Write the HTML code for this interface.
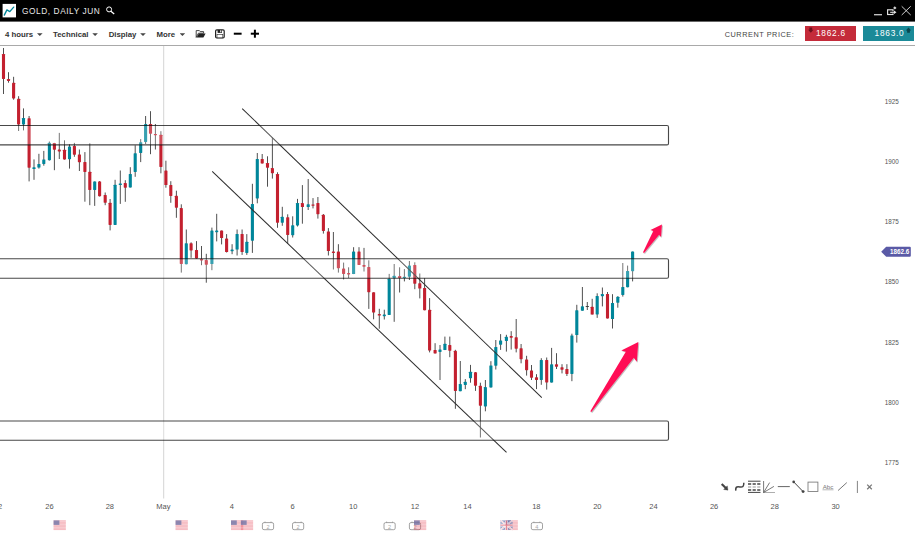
<!DOCTYPE html>
<html><head><meta charset="utf-8"><title>GOLD, DAILY JUN</title>
<style>
html,body{margin:0;padding:0;}
body{width:915px;height:533px;position:relative;overflow:hidden;background:#fff;font-family:"Liberation Sans",sans-serif;}
.abs{position:absolute;white-space:nowrap;}
#titlebar{left:0;top:0;width:915px;height:21px;background:#000;border-bottom:1px solid #666;}
#title{left:22.1px;top:6.1px;font-size:8.3px;line-height:11px;color:#e8e8e8;letter-spacing:0.56px;}
#toolbar{left:0;top:22px;width:915px;height:23px;background:#fff;border-bottom:1px solid #a9a9a9;}
.tb{top:28.6px;font-size:7.8px;line-height:11px;font-weight:bold;color:#333;}
.car{top:33.2px;width:5.6px;height:2.9px;background:#444;clip-path:polygon(0 0,100% 0,50% 100%);}
#cp{left:724.7px;top:29.2px;font-size:7.3px;line-height:11px;color:#444;letter-spacing:0.55px;}
.pbox{top:26.3px;height:14.4px;color:#fff;font-size:8.3px;line-height:14.4px;letter-spacing:0.75px;}
.ax{font-size:6.3px;line-height:9px;color:#555;}
.dt{font-size:7.5px;line-height:9px;color:#555;top:501.5px;transform:translateX(-50%);}
</style></head><body>
<div class="abs" id="titlebar"></div>
<svg class="abs" style="left:0;top:0" width="130" height="22" viewBox="0 0 130 22">
<rect x="2.6" y="3.9" width="13.4" height="13.5" fill="#fff"/>
<polyline points="4.3,15.1 6.9,9.9 9.8,11.6 13.7,7.1" fill="none" stroke="#00869a" stroke-width="1.35" stroke-linecap="round" stroke-linejoin="round"/>
<circle cx="109.1" cy="9.4" r="2.5" fill="none" stroke="#fff" stroke-width="1"/>
<line x1="110.9" y1="11.2" x2="114.2" y2="14" stroke="#fff" stroke-width="1.3"/>
</svg>
<div class="abs" id="title">GOLD, DAILY JUN</div>
<svg class="abs" style="left:870px;top:0" width="45" height="22" viewBox="870 0 45 22">
<line x1="874" y1="14.75" x2="882" y2="14.75" stroke="#f0f0f0" stroke-width="1.1"/>
<rect x="887.6" y="9.8" width="5.4" height="4.7" fill="none" stroke="#e2e2e2" stroke-width="1.15"/>
<rect x="892" y="11.3" width="2.6" height="2" fill="#000"/>
<line x1="890.2" y1="12.3" x2="894.6" y2="12.3" stroke="#e8e8e8" stroke-width="1.1"/>
<path d="M894 10.5 L896.5 12.3 L894 14.1 Z" fill="#e8e8e8"/>
<path d="M894.8 6.2 L896.5 7.9 L894.8 9.6 L893.1 7.9 Z" fill="#d0d0d0"/>
<path d="M901.7 6.3 L910.7 15 M910.7 6.3 L901.7 15" stroke="#e4e4e4" stroke-width="0.9" fill="none"/>
</svg>
<div class="abs" id="toolbar"></div>
<div class="abs tb" style="left:5px">4 hours</div><div class="abs car" style="left:37px"></div>
<div class="abs tb" style="left:53.1px">Technical</div><div class="abs car" style="left:92.3px"></div>
<div class="abs tb" style="left:108.7px">Display</div><div class="abs car" style="left:140.2px"></div>
<div class="abs tb" style="left:156.4px">More</div><div class="abs car" style="left:179.6px"></div>
<svg class="abs" style="left:190px;top:24px" width="80" height="20" viewBox="190 24 80 20">
<path d="M196.2 37.4 L196.2 30.6 L199.4 30.6 L200.2 31.6 L203.6 31.6 L203.6 33.2 L198.4 33.2 Z" fill="none" stroke="#333" stroke-width="0.9"/>
<path d="M196.6 37.6 L198.8 33.4 L205.6 33.4 L203.4 37.6 Z" fill="#222"/>
<rect x="215.6" y="29.9" width="8.6" height="8.1" rx="1.2" fill="none" stroke="#222" stroke-width="1.2"/>
<rect x="217.6" y="29.9" width="4.4" height="3" fill="#222"/>
<rect x="220.2" y="30.3" width="1.1" height="2" fill="#fff"/>
<rect x="217" y="34.6" width="5.8" height="3.2" fill="#fff" stroke="#222" stroke-width="0.6"/>
<rect x="233.8" y="32.7" width="7.8" height="2" fill="#000"/>
<rect x="250.8" y="32.7" width="8.2" height="2" fill="#000"/>
<rect x="253.9" y="29.7" width="2" height="8" fill="#000"/>
</svg>
<div class="abs" id="cp">CURRENT PRICE:</div>
<div class="abs pbox" style="left:804.8px;width:51.2px;background:#c42b3a;"><span style="position:absolute;left:11.2px">1862.6</span></div>
<div class="abs pbox" style="left:862.9px;width:51px;background:#1b8a98;"><span style="position:absolute;left:11.7px">1863.0</span></div>
<svg class="abs" style="left:800px;top:24px" width="115" height="20" viewBox="800 24 115 20">
<path d="M809.4 27.4 h2.8 v2.3 h1.3 l-2.7 3.1 l-2.7 -3.1 h1.3 Z" fill="#6e101c"/>
<path d="M907.1 32.8 h2.8 v-2.3 h1.3 l-2.7 -3.1 l-2.7 3.1 h1.3 Z" fill="#09464e"/>
</svg>

<svg class="abs" style="left:0;top:46px" width="915" height="487" viewBox="0 46 915 487">
<defs><filter id="sh" x="-20%" y="-20%" width="140%" height="140%"><feDropShadow dx="0.8" dy="0.8" stdDeviation="0.5" flood-color="#000" flood-opacity="0.32"/></filter></defs>
<line x1="163.7" y1="46" x2="163.7" y2="498.5" stroke="#d4d4d4" stroke-width="1"/>
<line x1="3.5" y1="48" x2="3.5" y2="94" stroke="#3c3c3c" stroke-width="0.9"/>
<rect x="1.95" y="54" width="3.1" height="25" rx="0.45" fill="#c3202f"/>
<line x1="8.5" y1="72.2" x2="8.5" y2="82.7" stroke="#3c3c3c" stroke-width="0.9"/>
<rect x="6.95" y="79" width="3.1" height="2" rx="0.45" fill="#c3202f"/>
<line x1="13.6" y1="76.8" x2="13.6" y2="99.7" stroke="#3c3c3c" stroke-width="0.9"/>
<rect x="12.05" y="82.7" width="3.1" height="15.7" rx="0.45" fill="#c3202f"/>
<line x1="18.6" y1="96.2" x2="18.6" y2="131" stroke="#3c3c3c" stroke-width="0.9"/>
<rect x="17.05" y="98.8" width="3.1" height="25.6" rx="0.45" fill="#c3202f"/>
<line x1="23.5" y1="108.4" x2="23.5" y2="130.4" stroke="#3c3c3c" stroke-width="0.9"/>
<rect x="21.95" y="118" width="3.1" height="6.4" rx="0.45" fill="#00869a"/>
<line x1="29.1" y1="116" x2="29.1" y2="181.4" stroke="#3c3c3c" stroke-width="0.9"/>
<rect x="27.55" y="118.2" width="3.1" height="49.6" rx="0.45" fill="#c3202f"/>
<line x1="34" y1="159.4" x2="34" y2="179.8" stroke="#3c3c3c" stroke-width="0.9"/>
<rect x="32.45" y="167.3" width="3.1" height="1.8" rx="0.45" fill="#00869a"/>
<line x1="38.9" y1="153.8" x2="38.9" y2="168.6" stroke="#3c3c3c" stroke-width="0.9"/>
<rect x="37.35" y="163.9" width="3.1" height="3.7" rx="0.45" fill="#00869a"/>
<line x1="43.8" y1="150.9" x2="43.8" y2="165.7" stroke="#3c3c3c" stroke-width="0.9"/>
<rect x="42.25" y="159.4" width="3.1" height="4.5" rx="0.45" fill="#00869a"/>
<line x1="49.4" y1="141.5" x2="49.4" y2="160.5" stroke="#3c3c3c" stroke-width="0.9"/>
<rect x="47.85" y="142.7" width="3.1" height="17.6" rx="0.45" fill="#00869a"/>
<line x1="54.4" y1="142.9" x2="54.4" y2="170.2" stroke="#3c3c3c" stroke-width="0.9"/>
<rect x="52.85" y="143" width="3.1" height="6.8" rx="0.45" fill="#c3202f"/>
<line x1="59.3" y1="132.9" x2="59.3" y2="159" stroke="#3c3c3c" stroke-width="0.9"/>
<rect x="57.75" y="149.5" width="3.1" height="1.9" rx="0.45" fill="#c3202f"/>
<line x1="64.5" y1="140.3" x2="64.5" y2="159.6" stroke="#3c3c3c" stroke-width="0.9"/>
<rect x="62.95" y="149.8" width="3.1" height="9.6" rx="0.45" fill="#c3202f"/>
<line x1="69.5" y1="144.2" x2="69.5" y2="168.6" stroke="#3c3c3c" stroke-width="0.9"/>
<rect x="67.95" y="146.6" width="3.1" height="12.7" rx="0.45" fill="#00869a"/>
<line x1="74.4" y1="142.9" x2="74.4" y2="156.8" stroke="#3c3c3c" stroke-width="0.9"/>
<rect x="72.85" y="145.9" width="3.1" height="8.9" rx="0.45" fill="#c3202f"/>
<line x1="79.4" y1="149.5" x2="79.4" y2="171" stroke="#3c3c3c" stroke-width="0.9"/>
<rect x="77.85" y="154.4" width="3.1" height="7.9" rx="0.45" fill="#c3202f"/>
<line x1="84.9" y1="152.1" x2="84.9" y2="201.7" stroke="#3c3c3c" stroke-width="0.9"/>
<rect x="83.35" y="161.9" width="3.1" height="10" rx="0.45" fill="#c3202f"/>
<line x1="89.8" y1="143.3" x2="89.8" y2="205.2" stroke="#3c3c3c" stroke-width="0.9"/>
<rect x="88.25" y="171.8" width="3.1" height="18.1" rx="0.45" fill="#c3202f"/>
<line x1="94.7" y1="181.4" x2="94.7" y2="205.9" stroke="#3c3c3c" stroke-width="0.9"/>
<rect x="93.15" y="181.4" width="3.1" height="8.5" rx="0.45" fill="#00869a"/>
<line x1="99.6" y1="181" x2="99.6" y2="196.5" stroke="#3c3c3c" stroke-width="0.9"/>
<rect x="98.05" y="181.4" width="3.1" height="14.8" rx="0.45" fill="#c3202f"/>
<line x1="105.2" y1="192.5" x2="105.2" y2="205.2" stroke="#3c3c3c" stroke-width="0.9"/>
<rect x="103.65" y="195" width="3.1" height="7.8" rx="0.45" fill="#c3202f"/>
<line x1="110.1" y1="199" x2="110.1" y2="230.4" stroke="#3c3c3c" stroke-width="0.9"/>
<rect x="108.55" y="202.8" width="3.1" height="22.1" rx="0.45" fill="#c3202f"/>
<line x1="115.1" y1="179.8" x2="115.1" y2="224.9" stroke="#3c3c3c" stroke-width="0.9"/>
<rect x="113.55" y="184.7" width="3.1" height="40.2" rx="0.45" fill="#00869a"/>
<line x1="120.3" y1="170.5" x2="120.3" y2="203.9" stroke="#3c3c3c" stroke-width="0.9"/>
<rect x="118.75" y="183.4" width="3.1" height="1.7" rx="0.45" fill="#00869a"/>
<line x1="125.3" y1="180.2" x2="125.3" y2="201.8" stroke="#3c3c3c" stroke-width="0.9"/>
<rect x="123.75" y="183.1" width="3.1" height="4.6" rx="0.45" fill="#c3202f"/>
<line x1="130.3" y1="167.2" x2="130.3" y2="187.5" stroke="#3c3c3c" stroke-width="0.9"/>
<rect x="128.75" y="173.9" width="3.1" height="13.6" rx="0.45" fill="#00869a"/>
<line x1="135.2" y1="145.3" x2="135.2" y2="176.8" stroke="#3c3c3c" stroke-width="0.9"/>
<rect x="133.65" y="153.2" width="3.1" height="18.8" rx="0.45" fill="#00869a"/>
<line x1="140.7" y1="139.1" x2="140.7" y2="162.1" stroke="#3c3c3c" stroke-width="0.9"/>
<rect x="139.15" y="142.3" width="3.1" height="10.6" rx="0.45" fill="#00869a"/>
<line x1="145.6" y1="116" x2="145.6" y2="144" stroke="#3c3c3c" stroke-width="0.9"/>
<rect x="144.05" y="124" width="3.1" height="18" rx="0.45" fill="#00869a"/>
<line x1="150.5" y1="111.2" x2="150.5" y2="154.2" stroke="#3c3c3c" stroke-width="0.9"/>
<rect x="148.95" y="124" width="3.1" height="9.7" rx="0.45" fill="#c3202f"/>
<line x1="155.4" y1="124" x2="155.4" y2="149.5" stroke="#3c3c3c" stroke-width="0.9"/>
<rect x="153.85" y="133.9" width="3.1" height="1.3" rx="0.45" fill="#c3202f"/>
<line x1="160.9" y1="131.2" x2="160.9" y2="173.3" stroke="#3c3c3c" stroke-width="0.9"/>
<rect x="159.35" y="134.8" width="3.1" height="32.2" rx="0.45" fill="#c3202f"/>
<line x1="165.9" y1="160.7" x2="165.9" y2="187.7" stroke="#3c3c3c" stroke-width="0.9"/>
<rect x="164.35" y="170.6" width="3.1" height="14.5" rx="0.45" fill="#c3202f"/>
<line x1="170.8" y1="181.2" x2="170.8" y2="202.8" stroke="#3c3c3c" stroke-width="0.9"/>
<rect x="169.25" y="185.1" width="3.1" height="10.9" rx="0.45" fill="#c3202f"/>
<line x1="176.4" y1="190.7" x2="176.4" y2="217.8" stroke="#3c3c3c" stroke-width="0.9"/>
<rect x="174.85" y="195.7" width="3.1" height="12" rx="0.45" fill="#c3202f"/>
<line x1="181.3" y1="204.3" x2="181.3" y2="272.6" stroke="#3c3c3c" stroke-width="0.9"/>
<rect x="179.75" y="208" width="3.1" height="56" rx="0.45" fill="#c3202f"/>
<line x1="186.3" y1="229.5" x2="186.3" y2="264.3" stroke="#3c3c3c" stroke-width="0.9"/>
<rect x="184.75" y="243.3" width="3.1" height="21" rx="0.45" fill="#00869a"/>
<line x1="191.1" y1="242.3" x2="191.1" y2="257.8" stroke="#3c3c3c" stroke-width="0.9"/>
<rect x="189.55" y="243.3" width="3.1" height="7.2" rx="0.45" fill="#c3202f"/>
<line x1="196.5" y1="241.1" x2="196.5" y2="258.7" stroke="#3c3c3c" stroke-width="0.9"/>
<rect x="194.95" y="249.9" width="3.1" height="8.5" rx="0.45" fill="#c3202f"/>
<line x1="201.5" y1="246" x2="201.5" y2="265.2" stroke="#3c3c3c" stroke-width="0.9"/>
<rect x="199.95" y="259.1" width="3.1" height="1.3" rx="0.45" fill="#c3202f"/>
<line x1="206.3" y1="253.8" x2="206.3" y2="282.7" stroke="#3c3c3c" stroke-width="0.9"/>
<rect x="204.75" y="260.1" width="3.1" height="4.6" rx="0.45" fill="#c3202f"/>
<line x1="211.9" y1="227.6" x2="211.9" y2="270.2" stroke="#3c3c3c" stroke-width="0.9"/>
<rect x="210.35" y="230.6" width="3.1" height="33.5" rx="0.45" fill="#00869a"/>
<line x1="216.7" y1="213.8" x2="216.7" y2="241.4" stroke="#3c3c3c" stroke-width="0.9"/>
<rect x="215.15" y="230.6" width="3.1" height="1.7" rx="0.45" fill="#00869a"/>
<line x1="221.6" y1="230.6" x2="221.6" y2="244.4" stroke="#3c3c3c" stroke-width="0.9"/>
<rect x="220.05" y="230.6" width="3.1" height="7.5" rx="0.45" fill="#c3202f"/>
<line x1="226.6" y1="234.1" x2="226.6" y2="252.5" stroke="#3c3c3c" stroke-width="0.9"/>
<rect x="225.05" y="238.5" width="3.1" height="13.6" rx="0.45" fill="#c3202f"/>
<line x1="232.1" y1="244.2" x2="232.1" y2="254.2" stroke="#3c3c3c" stroke-width="0.9"/>
<rect x="230.55" y="249.5" width="3.1" height="1.7" rx="0.45" fill="#00869a"/>
<line x1="237.1" y1="229.5" x2="237.1" y2="255.5" stroke="#3c3c3c" stroke-width="0.9"/>
<rect x="235.55" y="234.1" width="3.1" height="15.5" rx="0.45" fill="#00869a"/>
<line x1="242.1" y1="229.5" x2="242.1" y2="254.9" stroke="#3c3c3c" stroke-width="0.9"/>
<rect x="240.55" y="234.1" width="3.1" height="18" rx="0.45" fill="#c3202f"/>
<line x1="246.8" y1="234.1" x2="246.8" y2="254.9" stroke="#3c3c3c" stroke-width="0.9"/>
<rect x="245.25" y="241.7" width="3.1" height="11.2" rx="0.45" fill="#00869a"/>
<line x1="252.4" y1="183.8" x2="252.4" y2="252.9" stroke="#3c3c3c" stroke-width="0.9"/>
<rect x="250.85" y="203.9" width="3.1" height="36.8" rx="0.45" fill="#00869a"/>
<line x1="257.3" y1="153" x2="257.3" y2="203.3" stroke="#3c3c3c" stroke-width="0.9"/>
<rect x="255.75" y="158.9" width="3.1" height="39.6" rx="0.45" fill="#00869a"/>
<line x1="262.2" y1="154" x2="262.2" y2="163.5" stroke="#3c3c3c" stroke-width="0.9"/>
<rect x="260.65" y="158.9" width="3.1" height="4.6" rx="0.45" fill="#c3202f"/>
<line x1="267.5" y1="156.3" x2="267.5" y2="186.7" stroke="#3c3c3c" stroke-width="0.9"/>
<rect x="265.95" y="163.1" width="3.1" height="4.7" rx="0.45" fill="#c3202f"/>
<line x1="272.4" y1="137.6" x2="272.4" y2="178.6" stroke="#3c3c3c" stroke-width="0.9"/>
<rect x="270.85" y="168.1" width="3.1" height="5.2" rx="0.45" fill="#c3202f"/>
<line x1="277.5" y1="172.3" x2="277.5" y2="227.8" stroke="#3c3c3c" stroke-width="0.9"/>
<rect x="275.95" y="174" width="3.1" height="48.8" rx="0.45" fill="#c3202f"/>
<line x1="282.3" y1="206.8" x2="282.3" y2="225.8" stroke="#3c3c3c" stroke-width="0.9"/>
<rect x="280.75" y="216.7" width="3.1" height="6.1" rx="0.45" fill="#00869a"/>
<line x1="287.7" y1="214.3" x2="287.7" y2="243.8" stroke="#3c3c3c" stroke-width="0.9"/>
<rect x="286.15" y="217.3" width="3.1" height="17.7" rx="0.45" fill="#c3202f"/>
<line x1="292.7" y1="216.3" x2="292.7" y2="237.5" stroke="#3c3c3c" stroke-width="0.9"/>
<rect x="291.15" y="225.2" width="3.1" height="10.1" rx="0.45" fill="#00869a"/>
<line x1="297.5" y1="198.9" x2="297.5" y2="226.5" stroke="#3c3c3c" stroke-width="0.9"/>
<rect x="295.95" y="203.1" width="3.1" height="22.3" rx="0.45" fill="#00869a"/>
<line x1="302.4" y1="185.1" x2="302.4" y2="223.7" stroke="#3c3c3c" stroke-width="0.9"/>
<rect x="300.85" y="203.1" width="3.1" height="4" rx="0.45" fill="#c3202f"/>
<line x1="308.2" y1="179" x2="308.2" y2="210" stroke="#3c3c3c" stroke-width="0.9"/>
<rect x="306.65" y="204.2" width="3.1" height="2.9" rx="0.45" fill="#00869a"/>
<line x1="313" y1="198.1" x2="313" y2="208.4" stroke="#3c3c3c" stroke-width="0.9"/>
<rect x="311.45" y="204.4" width="3.1" height="1.4" rx="0.45" fill="#c3202f"/>
<line x1="317.9" y1="197" x2="317.9" y2="218.6" stroke="#3c3c3c" stroke-width="0.9"/>
<rect x="316.35" y="202.9" width="3.1" height="11.4" rx="0.45" fill="#c3202f"/>
<line x1="323.4" y1="214" x2="323.4" y2="233.6" stroke="#3c3c3c" stroke-width="0.9"/>
<rect x="321.85" y="214.7" width="3.1" height="16.3" rx="0.45" fill="#c3202f"/>
<line x1="328.4" y1="228.1" x2="328.4" y2="255.5" stroke="#3c3c3c" stroke-width="0.9"/>
<rect x="326.85" y="231.4" width="3.1" height="19.7" rx="0.45" fill="#c3202f"/>
<line x1="333.4" y1="232" x2="333.4" y2="269.5" stroke="#3c3c3c" stroke-width="0.9"/>
<rect x="331.85" y="251.5" width="3.1" height="1.5" rx="0.45" fill="#c3202f"/>
<line x1="338.4" y1="244.2" x2="338.4" y2="272.6" stroke="#3c3c3c" stroke-width="0.9"/>
<rect x="336.85" y="251.5" width="3.1" height="16.7" rx="0.45" fill="#c3202f"/>
<line x1="343.6" y1="262.6" x2="343.6" y2="279.4" stroke="#3c3c3c" stroke-width="0.9"/>
<rect x="342.05" y="268.6" width="3.1" height="5.3" rx="0.45" fill="#c3202f"/>
<line x1="348.6" y1="267.3" x2="348.6" y2="278" stroke="#3c3c3c" stroke-width="0.9"/>
<rect x="347.05" y="273.1" width="3.1" height="1.4" rx="0.45" fill="#c3202f"/>
<line x1="353.6" y1="247.2" x2="353.6" y2="274.1" stroke="#3c3c3c" stroke-width="0.9"/>
<rect x="352.05" y="251.6" width="3.1" height="22.5" rx="0.45" fill="#00869a"/>
<line x1="359" y1="247.2" x2="359" y2="264.9" stroke="#3c3c3c" stroke-width="0.9"/>
<rect x="357.45" y="251.6" width="3.1" height="13.3" rx="0.45" fill="#c3202f"/>
<line x1="364" y1="247.9" x2="364" y2="271.5" stroke="#3c3c3c" stroke-width="0.9"/>
<rect x="362.45" y="264.9" width="3.1" height="1.8" rx="0.45" fill="#c3202f"/>
<line x1="368.8" y1="260.3" x2="368.8" y2="308.9" stroke="#3c3c3c" stroke-width="0.9"/>
<rect x="367.25" y="266.9" width="3.1" height="25.4" rx="0.45" fill="#c3202f"/>
<line x1="373.6" y1="292.3" x2="373.6" y2="319.3" stroke="#3c3c3c" stroke-width="0.9"/>
<rect x="372.05" y="292.3" width="3.1" height="20.3" rx="0.45" fill="#c3202f"/>
<line x1="379.3" y1="308.8" x2="379.3" y2="328.7" stroke="#3c3c3c" stroke-width="0.9"/>
<rect x="377.75" y="314" width="3.1" height="1.6" rx="0.45" fill="#c3202f"/>
<line x1="384.3" y1="309.7" x2="384.3" y2="319.5" stroke="#3c3c3c" stroke-width="0.9"/>
<rect x="382.75" y="314.6" width="3.1" height="1.7" rx="0.45" fill="#00869a"/>
<line x1="389.2" y1="273.9" x2="389.2" y2="314.9" stroke="#3c3c3c" stroke-width="0.9"/>
<rect x="387.65" y="278.7" width="3.1" height="36.2" rx="0.45" fill="#00869a"/>
<line x1="394.2" y1="264" x2="394.2" y2="321.8" stroke="#3c3c3c" stroke-width="0.9"/>
<rect x="392.65" y="275.7" width="3.1" height="2.6" rx="0.45" fill="#00869a"/>
<line x1="399.6" y1="267.3" x2="399.6" y2="292.5" stroke="#3c3c3c" stroke-width="0.9"/>
<rect x="398.05" y="276.1" width="3.1" height="2" rx="0.45" fill="#c3202f"/>
<line x1="404.4" y1="269.1" x2="404.4" y2="281.4" stroke="#3c3c3c" stroke-width="0.9"/>
<rect x="402.85" y="276.8" width="3.1" height="1.3" rx="0.45" fill="#00869a"/>
<line x1="409.4" y1="261" x2="409.4" y2="280" stroke="#3c3c3c" stroke-width="0.9"/>
<rect x="407.85" y="265.6" width="3.1" height="11.2" rx="0.45" fill="#00869a"/>
<line x1="414.8" y1="262.3" x2="414.8" y2="289.2" stroke="#3c3c3c" stroke-width="0.9"/>
<rect x="413.25" y="264.9" width="3.1" height="18.8" rx="0.45" fill="#c3202f"/>
<line x1="419.8" y1="273.5" x2="419.8" y2="298.4" stroke="#3c3c3c" stroke-width="0.9"/>
<rect x="418.25" y="283.3" width="3.1" height="5.3" rx="0.45" fill="#c3202f"/>
<line x1="424.6" y1="278.1" x2="424.6" y2="310.3" stroke="#3c3c3c" stroke-width="0.9"/>
<rect x="423.05" y="287.9" width="3.1" height="22.4" rx="0.45" fill="#c3202f"/>
<line x1="429.6" y1="298.1" x2="429.6" y2="352.4" stroke="#3c3c3c" stroke-width="0.9"/>
<rect x="428.05" y="309.7" width="3.1" height="40.9" rx="0.45" fill="#c3202f"/>
<line x1="435.1" y1="343.2" x2="435.1" y2="353.4" stroke="#3c3c3c" stroke-width="0.9"/>
<rect x="433.55" y="350.1" width="3.1" height="3.3" rx="0.45" fill="#c3202f"/>
<line x1="440" y1="345" x2="440" y2="380" stroke="#3c3c3c" stroke-width="0.9"/>
<rect x="438.45" y="349.6" width="3.1" height="2.4" rx="0.45" fill="#00869a"/>
<line x1="444.9" y1="336.6" x2="444.9" y2="350.1" stroke="#3c3c3c" stroke-width="0.9"/>
<rect x="443.35" y="343.8" width="3.1" height="6.3" rx="0.45" fill="#00869a"/>
<line x1="449.8" y1="336.6" x2="449.8" y2="357.2" stroke="#3c3c3c" stroke-width="0.9"/>
<rect x="448.25" y="344.9" width="3.1" height="5.8" rx="0.45" fill="#c3202f"/>
<line x1="455.4" y1="349.8" x2="455.4" y2="408.8" stroke="#3c3c3c" stroke-width="0.9"/>
<rect x="453.85" y="350.8" width="3.1" height="40.1" rx="0.45" fill="#c3202f"/>
<line x1="460.3" y1="361" x2="460.3" y2="391.2" stroke="#3c3c3c" stroke-width="0.9"/>
<rect x="458.75" y="384" width="3.1" height="7.2" rx="0.45" fill="#00869a"/>
<line x1="465.3" y1="379.1" x2="465.3" y2="389.2" stroke="#3c3c3c" stroke-width="0.9"/>
<rect x="463.75" y="381.7" width="3.1" height="3.2" rx="0.45" fill="#00869a"/>
<line x1="470.5" y1="364.9" x2="470.5" y2="382.7" stroke="#3c3c3c" stroke-width="0.9"/>
<rect x="468.95" y="371.8" width="3.1" height="6.5" rx="0.45" fill="#00869a"/>
<line x1="475.5" y1="372" x2="475.5" y2="390.9" stroke="#3c3c3c" stroke-width="0.9"/>
<rect x="473.95" y="372.2" width="3.1" height="13.5" rx="0.45" fill="#c3202f"/>
<line x1="480.4" y1="382.7" x2="480.4" y2="437.5" stroke="#3c3c3c" stroke-width="0.9"/>
<rect x="478.85" y="385.7" width="3.1" height="20.1" rx="0.45" fill="#c3202f"/>
<line x1="485.4" y1="380" x2="485.4" y2="411.3" stroke="#3c3c3c" stroke-width="0.9"/>
<rect x="483.85" y="387" width="3.1" height="19.4" rx="0.45" fill="#00869a"/>
<line x1="490.9" y1="361.2" x2="490.9" y2="387.5" stroke="#3c3c3c" stroke-width="0.9"/>
<rect x="489.35" y="365.4" width="3.1" height="22.1" rx="0.45" fill="#00869a"/>
<line x1="495.8" y1="340" x2="495.8" y2="369.5" stroke="#3c3c3c" stroke-width="0.9"/>
<rect x="494.25" y="347.1" width="3.1" height="18.7" rx="0.45" fill="#00869a"/>
<line x1="500.6" y1="334.1" x2="500.6" y2="349.9" stroke="#3c3c3c" stroke-width="0.9"/>
<rect x="499.05" y="340.4" width="3.1" height="4.3" rx="0.45" fill="#00869a"/>
<line x1="506.4" y1="334.8" x2="506.4" y2="351.6" stroke="#3c3c3c" stroke-width="0.9"/>
<rect x="504.85" y="336.8" width="3.1" height="4.2" rx="0.45" fill="#00869a"/>
<line x1="511.2" y1="331.2" x2="511.2" y2="349.6" stroke="#3c3c3c" stroke-width="0.9"/>
<rect x="509.65" y="336.1" width="3.1" height="1.6" rx="0.45" fill="#c3202f"/>
<line x1="516.2" y1="319" x2="516.2" y2="352.4" stroke="#3c3c3c" stroke-width="0.9"/>
<rect x="514.65" y="337.2" width="3.1" height="11.6" rx="0.45" fill="#c3202f"/>
<line x1="521.1" y1="344" x2="521.1" y2="363.3" stroke="#3c3c3c" stroke-width="0.9"/>
<rect x="519.55" y="348.2" width="3.1" height="11.1" rx="0.45" fill="#c3202f"/>
<line x1="526.6" y1="355.8" x2="526.6" y2="375.6" stroke="#3c3c3c" stroke-width="0.9"/>
<rect x="525.05" y="359.4" width="3.1" height="10.8" rx="0.45" fill="#c3202f"/>
<line x1="531.5" y1="365" x2="531.5" y2="380" stroke="#3c3c3c" stroke-width="0.9"/>
<rect x="529.95" y="370.4" width="3.1" height="7.4" rx="0.45" fill="#c3202f"/>
<line x1="536.5" y1="374.2" x2="536.5" y2="389.1" stroke="#3c3c3c" stroke-width="0.9"/>
<rect x="534.95" y="377.2" width="3.1" height="2.8" rx="0.45" fill="#c3202f"/>
<line x1="541.3" y1="358.2" x2="541.3" y2="384.8" stroke="#3c3c3c" stroke-width="0.9"/>
<rect x="539.75" y="359.9" width="3.1" height="20" rx="0.45" fill="#00869a"/>
<line x1="546.7" y1="357.5" x2="546.7" y2="389.6" stroke="#3c3c3c" stroke-width="0.9"/>
<rect x="545.15" y="359.9" width="3.1" height="22.5" rx="0.45" fill="#c3202f"/>
<line x1="551.6" y1="347.9" x2="551.6" y2="382.6" stroke="#3c3c3c" stroke-width="0.9"/>
<rect x="550.05" y="364.2" width="3.1" height="18.4" rx="0.45" fill="#00869a"/>
<line x1="556.5" y1="353.2" x2="556.5" y2="369" stroke="#3c3c3c" stroke-width="0.9"/>
<rect x="554.95" y="364.2" width="3.1" height="2.5" rx="0.45" fill="#c3202f"/>
<line x1="562" y1="364.2" x2="562" y2="373.4" stroke="#3c3c3c" stroke-width="0.9"/>
<rect x="560.45" y="367.3" width="3.1" height="2.4" rx="0.45" fill="#c3202f"/>
<line x1="566.9" y1="364.2" x2="566.9" y2="376" stroke="#3c3c3c" stroke-width="0.9"/>
<rect x="565.35" y="369" width="3.1" height="5" rx="0.45" fill="#c3202f"/>
<line x1="571.9" y1="333.7" x2="571.9" y2="381.2" stroke="#3c3c3c" stroke-width="0.9"/>
<rect x="570.35" y="335.4" width="3.1" height="38.6" rx="0.45" fill="#00869a"/>
<line x1="576.8" y1="304.8" x2="576.8" y2="342.6" stroke="#3c3c3c" stroke-width="0.9"/>
<rect x="575.25" y="310.2" width="3.1" height="24.9" rx="0.45" fill="#00869a"/>
<line x1="582.4" y1="287" x2="582.4" y2="310.7" stroke="#3c3c3c" stroke-width="0.9"/>
<rect x="580.85" y="306.3" width="3.1" height="4.4" rx="0.45" fill="#00869a"/>
<line x1="587.3" y1="302" x2="587.3" y2="310" stroke="#3c3c3c" stroke-width="0.9"/>
<rect x="585.7" y="306" width="3.2" height="0.9" fill="#333"/>
<line x1="592.2" y1="298.8" x2="592.2" y2="314.6" stroke="#3c3c3c" stroke-width="0.9"/>
<rect x="590.65" y="306.8" width="3.1" height="7.8" rx="0.45" fill="#c3202f"/>
<line x1="597.2" y1="293.3" x2="597.2" y2="317.9" stroke="#3c3c3c" stroke-width="0.9"/>
<rect x="595.65" y="296" width="3.1" height="18.5" rx="0.45" fill="#00869a"/>
<line x1="602.4" y1="287.5" x2="602.4" y2="306.4" stroke="#3c3c3c" stroke-width="0.9"/>
<rect x="600.85" y="294.1" width="3.1" height="2.1" rx="0.45" fill="#00869a"/>
<line x1="607.5" y1="292" x2="607.5" y2="318.5" stroke="#3c3c3c" stroke-width="0.9"/>
<rect x="605.95" y="293.9" width="3.1" height="24.6" rx="0.45" fill="#c3202f"/>
<line x1="612.5" y1="294.2" x2="612.5" y2="328.5" stroke="#3c3c3c" stroke-width="0.9"/>
<rect x="610.95" y="302.9" width="3.1" height="16.2" rx="0.45" fill="#00869a"/>
<line x1="617.8" y1="296.2" x2="617.8" y2="307.7" stroke="#3c3c3c" stroke-width="0.9"/>
<rect x="616.25" y="296.8" width="3.1" height="5.9" rx="0.45" fill="#00869a"/>
<line x1="622.8" y1="263" x2="622.8" y2="296.6" stroke="#3c3c3c" stroke-width="0.9"/>
<rect x="621.25" y="287" width="3.1" height="7.9" rx="0.45" fill="#00869a"/>
<line x1="627.6" y1="265.6" x2="627.6" y2="287.3" stroke="#3c3c3c" stroke-width="0.9"/>
<rect x="626.05" y="270.9" width="3.1" height="16.4" rx="0.45" fill="#00869a"/>
<line x1="632.6" y1="251.6" x2="632.6" y2="281.4" stroke="#3c3c3c" stroke-width="0.9"/>
<rect x="631.05" y="251.6" width="3.1" height="19.6" rx="0.45" fill="#00869a"/>
<line x1="242.2" y1="108.59" x2="541.8" y2="397.55" stroke="#2e2e2e" stroke-width="1.02"/><line x1="212.2" y1="171.4" x2="506.5" y2="452.46" stroke="#2e2e2e" stroke-width="1.02"/>
<rect x="-5" y="125.5" width="673.5" height="19.4" rx="1.5" fill="rgba(255,255,255,0.22)" stroke="rgba(15,15,15,0.76)" stroke-width="1.12"/><rect x="-5" y="258.75" width="673.5" height="19.5" rx="1.5" fill="rgba(255,255,255,0.22)" stroke="rgba(15,15,15,0.76)" stroke-width="1.12"/><rect x="-5" y="421.05" width="673.5" height="19.2" rx="1.5" fill="rgba(255,255,255,0.22)" stroke="rgba(15,15,15,0.76)" stroke-width="1.12"/>
<g filter="url(#sh)" fill="#ff1155">
<polygon points="590.3,411.3 625.8,351.8 621.3,350.5 638.3,342.1 636.8,361.7 633.8,357.8 591.4,412.1"/>
<polygon points="643,252.3 653.3,231.1 650.5,230 661.9,224.4 661,237 659.1,234.7 644,252.9"/>
</g>
<!--PRICE TAG-->
<path d="M881.2 251.8 L886.2 246.8 L909.8 246.8 Q910.8 246.8 910.8 247.8 L910.8 255.8 Q910.8 256.8 909.8 256.8 L886.2 256.8 Z" fill="#5a5aa6"/>
<text x="899.6" y="254.1" font-family="Liberation Sans, sans-serif" font-size="6.3" font-weight="bold" fill="#fff" text-anchor="middle">1862.6</text>
<!--DRAW TOOLS-->
<g stroke="#444" fill="none">
<path d="M721.7 483.9 L725.8 488" stroke-width="2.1"/>
<path d="M728 490.2 L723.6 489.5 L727.3 485.8 Z" fill="#444" stroke-width="0.3"/>
<path d="M735.8 490.6 C735.2 486.2 738 486.6 740 487 C742.6 487.4 744 486.6 743.8 482.8" stroke-width="1.5"/>
<g stroke-width="1"><line x1="748" y1="481.2" x2="760.5" y2="481.2"/><line x1="748" y1="492.4" x2="760.5" y2="492.4"/>
<line x1="748" y1="484" x2="760.5" y2="484" stroke-width="1.6" stroke-dasharray="3.2,1.4"/>
<line x1="748" y1="487" x2="760.5" y2="487" stroke="#bbb" stroke-width="1.4" stroke-dasharray="3.2,1.4"/>
<line x1="748" y1="490" x2="760.5" y2="490" stroke-width="1.6" stroke-dasharray="3.2,1.4"/></g>
<g stroke-width="0.8" stroke="#555"><line x1="763.6" y1="481" x2="763.6" y2="492.7"/><line x1="763.6" y1="492.5" x2="775" y2="492.5" stroke="#999"/>
<line x1="763.6" y1="492.5" x2="769.6" y2="482.6"/><line x1="763.6" y1="492.5" x2="773.9" y2="486.4"/></g>
<line x1="777.8" y1="486.6" x2="789.8" y2="486.6" stroke-width="0.9" stroke="#555"/>
<line x1="793.6" y1="481.8" x2="803.1" y2="491.6" stroke-width="1"/>
<circle cx="793.7" cy="481.9" r="1.35" fill="#444" stroke="none"/><circle cx="803.1" cy="491.6" r="1.45" fill="#444" stroke="none"/>
<rect x="808" y="482.1" width="9.9" height="9.4" stroke="#777" stroke-width="0.85"/>
<line x1="838.1" y1="490.5" x2="846.8" y2="482.6" stroke="#666" stroke-width="0.9"/>
<line x1="857.4" y1="480.9" x2="857.4" y2="493" stroke="#777" stroke-width="0.9"/>
<path d="M867.2 484.6 L871.8 489.2 M871.8 484.6 L867.2 489.2" stroke="#777" stroke-width="1.25"/>
</g>
<text x="828" y="488.6" font-family="Liberation Sans, sans-serif" font-size="6.2" fill="#777" text-anchor="middle">Abc</text>
<line x1="822.5" y1="489.8" x2="833.5" y2="489.8" stroke="#888" stroke-width="0.6"/>
<!--FLAGS-->
<g id="flags"><g><g opacity="0.3"><rect x="53.6" y="520.4" width="12.2" height="9.5" fill="#fff"/><rect x="53.6" y="520.4" width="12.2" height="0.9" fill="#e0162b"/><rect x="53.6" y="521.86" width="12.2" height="0.9" fill="#e0162b"/><rect x="53.6" y="523.32" width="12.2" height="0.9" fill="#e0162b"/><rect x="53.6" y="524.79" width="12.2" height="0.9" fill="#e0162b"/><rect x="53.6" y="526.25" width="12.2" height="0.9" fill="#e0162b"/><rect x="53.6" y="527.71" width="12.2" height="0.9" fill="#e0162b"/><rect x="53.6" y="529.17" width="12.2" height="0.9" fill="#e0162b"/><rect x="53.6" y="520.4" width="12.2" height="9.5" fill="#e0162b" opacity="0.55"/></g><rect x="53.6" y="520.4" width="5.8" height="4.5" fill="#fff" opacity="0.6"/><rect x="53.6" y="520.4" width="5.8" height="4.5" fill="#2a2f7a" opacity="0.53"/></g><g><g opacity="0.3"><rect x="175.6" y="520.4" width="12.2" height="9.5" fill="#fff"/><rect x="175.6" y="520.4" width="12.2" height="0.9" fill="#e0162b"/><rect x="175.6" y="521.86" width="12.2" height="0.9" fill="#e0162b"/><rect x="175.6" y="523.32" width="12.2" height="0.9" fill="#e0162b"/><rect x="175.6" y="524.79" width="12.2" height="0.9" fill="#e0162b"/><rect x="175.6" y="526.25" width="12.2" height="0.9" fill="#e0162b"/><rect x="175.6" y="527.71" width="12.2" height="0.9" fill="#e0162b"/><rect x="175.6" y="529.17" width="12.2" height="0.9" fill="#e0162b"/><rect x="175.6" y="520.4" width="12.2" height="9.5" fill="#e0162b" opacity="0.55"/></g><rect x="175.6" y="520.4" width="5.8" height="4.5" fill="#fff" opacity="0.6"/><rect x="175.6" y="520.4" width="5.8" height="4.5" fill="#2a2f7a" opacity="0.53"/></g><g><g opacity="0.3"><rect x="231" y="520.4" width="12.2" height="9.5" fill="#fff"/><rect x="231" y="520.4" width="12.2" height="0.9" fill="#e0162b"/><rect x="231" y="521.86" width="12.2" height="0.9" fill="#e0162b"/><rect x="231" y="523.32" width="12.2" height="0.9" fill="#e0162b"/><rect x="231" y="524.79" width="12.2" height="0.9" fill="#e0162b"/><rect x="231" y="526.25" width="12.2" height="0.9" fill="#e0162b"/><rect x="231" y="527.71" width="12.2" height="0.9" fill="#e0162b"/><rect x="231" y="529.17" width="12.2" height="0.9" fill="#e0162b"/><rect x="231" y="520.4" width="12.2" height="9.5" fill="#e0162b" opacity="0.55"/></g><rect x="231" y="520.4" width="5.8" height="4.5" fill="#fff" opacity="0.6"/><rect x="231" y="520.4" width="5.8" height="4.5" fill="#2a2f7a" opacity="0.53"/></g><g><g opacity="0.3"><rect x="240.9" y="520.4" width="12.2" height="9.5" fill="#fff"/><rect x="240.9" y="520.4" width="12.2" height="0.9" fill="#e0162b"/><rect x="240.9" y="521.86" width="12.2" height="0.9" fill="#e0162b"/><rect x="240.9" y="523.32" width="12.2" height="0.9" fill="#e0162b"/><rect x="240.9" y="524.79" width="12.2" height="0.9" fill="#e0162b"/><rect x="240.9" y="526.25" width="12.2" height="0.9" fill="#e0162b"/><rect x="240.9" y="527.71" width="12.2" height="0.9" fill="#e0162b"/><rect x="240.9" y="529.17" width="12.2" height="0.9" fill="#e0162b"/><rect x="240.9" y="520.4" width="12.2" height="9.5" fill="#e0162b" opacity="0.55"/></g><rect x="240.9" y="520.4" width="5.8" height="4.5" fill="#fff" opacity="0.6"/><rect x="240.9" y="520.4" width="5.8" height="4.5" fill="#2a2f7a" opacity="0.53"/></g><g><rect x="262.4" y="522.6" width="11.2" height="7.1" rx="1.6" fill="#fff" stroke="#8a8a8a" stroke-width="0.8"/><path d="M265.0 522.6 v-1 M271.0 522.6 v-1" stroke="#8a8a8a" stroke-width="0.8"/><text x="268.0" y="528.7" font-family="Liberation Sans, sans-serif" font-size="5.6" fill="#aaa" text-anchor="middle">2</text></g><g><rect x="292.5" y="522.6" width="11.2" height="7.1" rx="1.6" fill="#fff" stroke="#8a8a8a" stroke-width="0.8"/><path d="M295.1 522.6 v-1 M301.1 522.6 v-1" stroke="#8a8a8a" stroke-width="0.8"/><text x="298.1" y="528.7" font-family="Liberation Sans, sans-serif" font-size="5.6" fill="#aaa" text-anchor="middle">2</text></g><g><rect x="384" y="522.6" width="11.2" height="7.1" rx="1.6" fill="#fff" stroke="#8a8a8a" stroke-width="0.8"/><path d="M386.6 522.6 v-1 M392.6 522.6 v-1" stroke="#8a8a8a" stroke-width="0.8"/><text x="389.6" y="528.7" font-family="Liberation Sans, sans-serif" font-size="5.6" fill="#aaa" text-anchor="middle">2</text></g><g><rect x="409.4" y="522.6" width="11.2" height="7.1" rx="1.6" fill="#fff" stroke="#8a8a8a" stroke-width="0.8"/><path d="M412.0 522.6 v-1 M418.0 522.6 v-1" stroke="#8a8a8a" stroke-width="0.8"/><text x="415.0" y="528.7" font-family="Liberation Sans, sans-serif" font-size="5.6" fill="#aaa" text-anchor="middle">2</text></g><g><g opacity="0.3"><rect x="414" y="520.4" width="12.2" height="9.5" fill="#fff"/><rect x="414" y="520.4" width="12.2" height="0.9" fill="#e0162b"/><rect x="414" y="521.86" width="12.2" height="0.9" fill="#e0162b"/><rect x="414" y="523.32" width="12.2" height="0.9" fill="#e0162b"/><rect x="414" y="524.79" width="12.2" height="0.9" fill="#e0162b"/><rect x="414" y="526.25" width="12.2" height="0.9" fill="#e0162b"/><rect x="414" y="527.71" width="12.2" height="0.9" fill="#e0162b"/><rect x="414" y="529.17" width="12.2" height="0.9" fill="#e0162b"/><rect x="414" y="520.4" width="12.2" height="9.5" fill="#e0162b" opacity="0.55"/></g><rect x="414" y="520.4" width="5.8" height="4.5" fill="#fff" opacity="0.6"/><rect x="414" y="520.4" width="5.8" height="4.5" fill="#2a2f7a" opacity="0.53"/></g><g><g opacity="0.3"><rect x="505.6" y="520.4" width="12.2" height="9.5" fill="#fff"/><rect x="505.6" y="520.4" width="12.2" height="0.9" fill="#e0162b"/><rect x="505.6" y="521.86" width="12.2" height="0.9" fill="#e0162b"/><rect x="505.6" y="523.32" width="12.2" height="0.9" fill="#e0162b"/><rect x="505.6" y="524.79" width="12.2" height="0.9" fill="#e0162b"/><rect x="505.6" y="526.25" width="12.2" height="0.9" fill="#e0162b"/><rect x="505.6" y="527.71" width="12.2" height="0.9" fill="#e0162b"/><rect x="505.6" y="529.17" width="12.2" height="0.9" fill="#e0162b"/><rect x="505.6" y="520.4" width="12.2" height="9.5" fill="#e0162b" opacity="0.55"/></g><rect x="505.6" y="520.4" width="5.8" height="4.5" fill="#fff" opacity="0.6"/><rect x="505.6" y="520.4" width="5.8" height="4.5" fill="#2a2f7a" opacity="0.53"/></g><g opacity="0.72"><rect x="500.4" y="520.4" width="12.2" height="9.5" fill="#6b78ae"/><path d="M500.4 520.4 L512.6 529.9 M512.6 520.4 L500.4 529.9" stroke="#fff" stroke-width="1.8"/><path d="M500.4 520.4 L512.6 529.9 M512.6 520.4 L500.4 529.9" stroke="#e8909a" stroke-width="0.6"/><path d="M506.5 520.4 V529.9 M500.4 525.15 H512.6" stroke="#fff" stroke-width="2.6"/><path d="M506.5 520.4 V529.9 M500.4 525.15 H512.6" stroke="#e2707e" stroke-width="1.4"/></g><g><rect x="531.3" y="522.6" width="11.2" height="7.1" rx="1.6" fill="#fff" stroke="#8a8a8a" stroke-width="0.8"/><path d="M533.9 522.6 v-1 M539.9 522.6 v-1" stroke="#8a8a8a" stroke-width="0.8"/><text x="536.9" y="528.7" font-family="Liberation Sans, sans-serif" font-size="5.6" fill="#aaa" text-anchor="middle">4</text></g></g>
</svg>
<div class="abs ax" style="left:884.8px;top:96.5px">1925</div>
<div class="abs ax" style="left:884.8px;top:156.8px">1900</div>
<div class="abs ax" style="left:884.8px;top:217px">1875</div>
<div class="abs ax" style="left:884.8px;top:277.3px">1850</div>
<div class="abs ax" style="left:884.8px;top:337.6px">1825</div>
<div class="abs ax" style="left:884.8px;top:397.9px">1800</div>
<div class="abs ax" style="left:884.8px;top:458.1px">1775</div>
<div class="abs dt" style="left:-2px">22</div>
<div class="abs dt" style="left:49.5px">26</div>
<div class="abs dt" style="left:109.8px">28</div>
<div class="abs dt" style="left:163.4px">May</div>
<div class="abs dt" style="left:231.9px">4</div>
<div class="abs dt" style="left:292.5px">6</div>
<div class="abs dt" style="left:353.2px">10</div>
<div class="abs dt" style="left:414.9px">12</div>
<div class="abs dt" style="left:467.5px">14</div>
<div class="abs dt" style="left:536.3px">18</div>
<div class="abs dt" style="left:597.3px">20</div>
<div class="abs dt" style="left:653.5px">24</div>
<div class="abs dt" style="left:714.1px">26</div>
<div class="abs dt" style="left:774.7px">28</div>
<div class="abs dt" style="left:835.6px">30</div>
</body></html>
